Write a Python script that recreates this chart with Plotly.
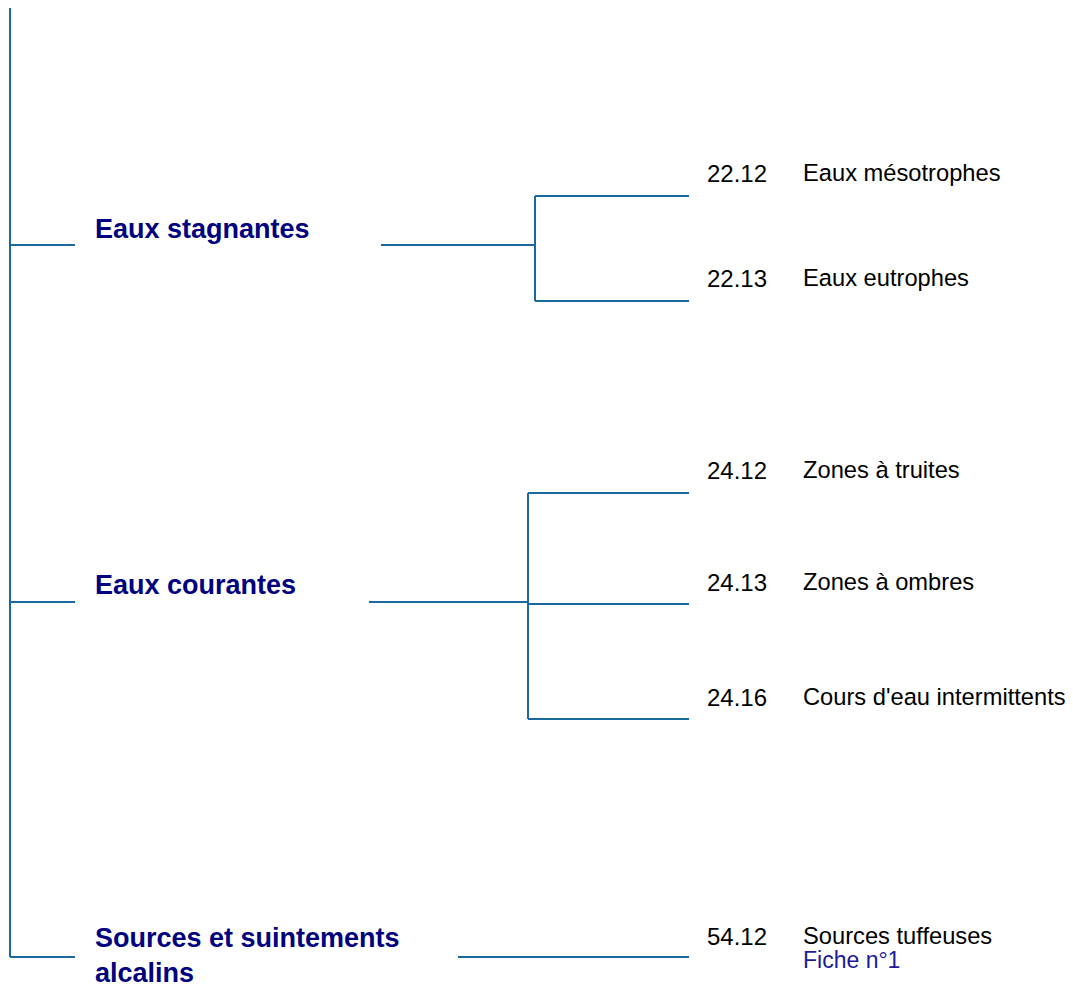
import plotly.graph_objects as go

# ---- data ----
groups = ["Eaux stagnantes", "Eaux courantes", "Sources et suintements<br>alcalins"]
codes = [["22.12", "22.13"], ["24.12", "24.13", "24.16"], ["54.12"]]
labels = [["Eaux mésotrophes", "Eaux eutrophes"],
          ["Zones à truites", "Zones à ombres", "Cours d'eau intermittents"],
          ["Sources tuffeuses"]]
fiche = "Fiche n°1"

# ---- layout positions (pixel space) ----
group_y = [245, 602, 957]
group_text_y = [229, 585, 955]
group_line_start = [381, 369, 458]
fork_x = [535, 528, None]
leaf_y = [[196, 301], [493, 604, 719], [957]]
leaf_text_y = [[173, 278], [470, 582, 697], [936]]
trunk_x = 10
stub_end = 75
leaf_end = 689
code_x = 705
label_x = 801

LINE = "#1769a0"
NAVY = "#000080"
FONT = "Liberation Sans, Arial"

fig = go.Figure()

def seg(xs, ys):
    fig.add_trace(go.Scatter(x=xs, y=ys, mode="lines",
                             line=dict(color=LINE, width=2),
                             hoverinfo="skip", showlegend=False))

# trunk
seg([trunk_x, trunk_x], [0, group_y[-1]])
for i, g in enumerate(groups):
    gy = group_y[i]
    seg([trunk_x, stub_end], [gy, gy])
    if fork_x[i] is None:
        seg([group_line_start[i], leaf_end], [gy, gy])
    else:
        fx = fork_x[i]
        seg([group_line_start[i], fx], [gy, gy])
        seg([fx, fx], [min(leaf_y[i]), max(leaf_y[i])])
        for ly in leaf_y[i]:
            seg([fx, leaf_end], [ly, ly])
    fig.add_annotation(x=93, y=group_text_y[i], text="<b>%s</b>" % g,
                       xanchor="left", yanchor="middle", showarrow=False,
                       align="left",
                       font=dict(family=FONT, size=27, color=NAVY))
    for c, l, ty in zip(codes[i], labels[i], leaf_text_y[i]):
        fig.add_annotation(x=code_x, y=ty, text=c, xanchor="left", yanchor="middle",
                           showarrow=False,
                           font=dict(family=FONT, size=24, color="#000000"))
        fig.add_annotation(x=label_x, y=ty, text=l, xanchor="left", yanchor="middle",
                           showarrow=False,
                           font=dict(family=FONT, size=23.7, color="#000000"))

fig.add_annotation(x=label_x, y=960, text=fiche, xanchor="left", yanchor="middle",
                   showarrow=False,
                   font=dict(family=FONT, size=23, color="#1a1a9a"))

# page has an 8px body margin: size the figure to fill the rest of the window
# and map data coords so they land on the same pixels as the reference
fig.update_layout(
    width=1065, height=976,
    margin=dict(l=0, r=0, t=0, b=0),
    paper_bgcolor="white", plot_bgcolor="white",
    xaxis=dict(range=[8, 1073], visible=False, fixedrange=True),
    yaxis=dict(range=[984, 8], visible=False, fixedrange=True),
)

fig.write_html("out.html")
